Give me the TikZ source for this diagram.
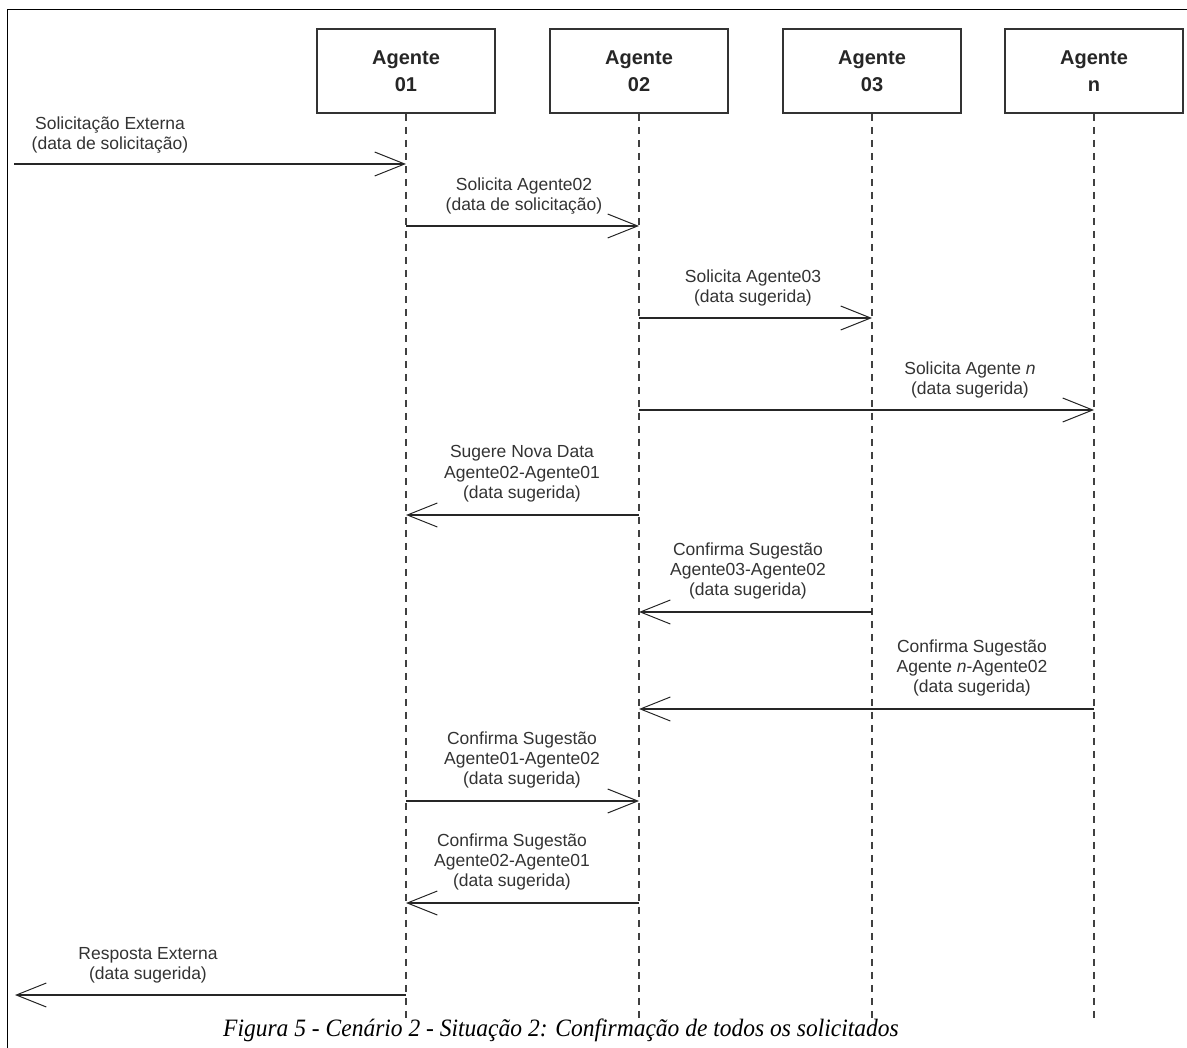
\documentclass[tikz,border=0pt]{standalone}
\usepackage{fontspec}
\usepackage{graphicx}
\setmainfont{Liberation Sans}
\newfontfamily\capfont{Liberation Serif}
\usetikzlibrary{arrows.meta}
\begin{document}
\begin{tikzpicture}[x=1pt,y=-1pt,
  agent/.style={draw=black!80, line width=1.6pt, minimum width=178pt, minimum height=84pt, inner sep=0pt, align=center, font=\fontsize{20}{27}\selectfont\bfseries, text=black!85},
  lifeline/.style={draw=black!75, line width=1.1pt, dash pattern=on 7pt off 6pt},
  msg/.style={draw=black!85, line width=1.6pt, -{Straight Barb[length=30pt,width=24pt,line width=1pt]}},
  lbl/.style={align=center, font=\fontsize{17.5}{20.3}\selectfont, text=black!80, inner sep=0pt},
  frame/.style={draw=black, line width=1.5pt}
]
\useasboundingbox (0,0) rectangle (1187,1048);
\draw[frame] (7.5,1048) -- (7.5,9.5) -- (1187,9.5);

\node[agent] (b1) at (406,71) {Agente\\01};
\node[agent] (b2) at (639,71) {Agente\\02};
\node[agent] (b3) at (872,71) {Agente\\03};
\node[agent] (bn) at (1094,71) {Agente\\n};

\coordinate (bot) at (0,1020);
\foreach \b in {b1,b2,b3,bn}{\draw[lifeline] (\b.south) -- (\b.south |- bot);}

% messages
\coordinate (e1) at (14,164);
\coordinate (m2) at (0,226);
\coordinate (m3) at (0,318);
\coordinate (m4) at (0,410);
\coordinate (m5) at (0,515);
\coordinate (m6) at (0,612);
\coordinate (m7) at (0,709);
\coordinate (m8) at (0,801);
\coordinate (m9) at (0,903);
\coordinate (e10) at (15,995);

\draw[msg] (e1) -- (b1.south |- e1);
\draw[msg] (b1.south |- m2) -- (b2.south |- m2);
\draw[msg] (b2.south |- m3) -- (b3.south |- m3);
\draw[msg] (b2.south |- m4) -- (bn.south |- m4);
\draw[msg] (b2.south |- m5) -- (b1.south |- m5);
\draw[msg] (b3.south |- m6) -- (b2.south |- m6);
\draw[msg] (bn.south |- m7) -- (b2.south |- m7);
\draw[msg] (b1.south |- m8) -- (b2.south |- m8);
\draw[msg] (b2.south |- m9) -- (b1.south |- m9);
\draw[msg] (b1.south |- e10) -- (e10);

% labels
\node[lbl] (t1) at (110,135) {Solicitação Externa\\(data de solicitação)};
\node[lbl] (t2) at (524,196) {Solicita Agente02\\(data de solicitação)};
\node[lbl] (t3) at (753,288) {Solicita Agente03\\(data sugerida)};
\node[lbl] (t4) at (970,380) {Solicita Agente \textit{n}\\(data sugerida)};
\node[lbl] (t5) at (522,474) {Sugere Nova Data\\Agente02-Agente01\\(data sugerida)};
\node[lbl] (t6) at (748,571) {Confirma Sugestão\\Agente03-Agente02\\(data sugerida)};
\node[lbl] (t7) at (972,668) {Confirma Sugestão\\Agente \textit{n}-Agente02\\(data sugerida)};
\node[lbl] (t8) at (522,760) {Confirma Sugestão\\Agente01-Agente02\\(data sugerida)};
\node[lbl] (t9) at (512,862) {Confirma Sugestão\\Agente02-Agente01\\(data sugerida)};
\node[lbl] (t10) at (148,965) {Resposta Externa\\(data sugerida)};

\node[font=\capfont\itshape\fontsize{25}{28}\selectfont, text=black, inner sep=0pt] (cap) at (561,1030) {\scalebox{0.94}[1]{Figura 5 - Cenário 2 - Situação 2: Confirmação de todos os solicitados}};
\end{tikzpicture}
\end{document}
